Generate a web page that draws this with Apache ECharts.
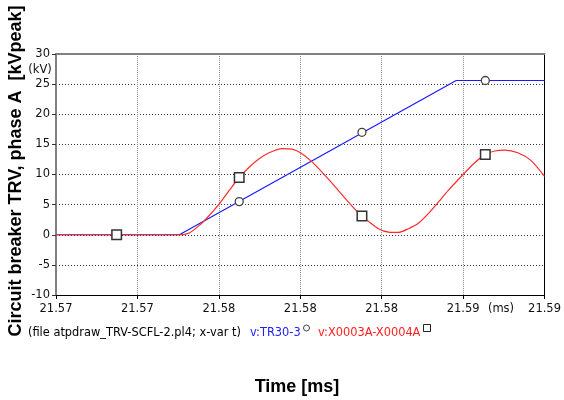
<!DOCTYPE html>
<html>
<head>
<meta charset="utf-8">
<script src="https://cdn.jsdelivr.net/npm/echarts@6/dist/echarts.min.js"></script>
<style>html,body{margin:0;padding:0;background:#fff;}#c{width:564px;height:400px;}</style>
</head>
<body>
<div id="c"></div>
<script>
// ---- data (time in ms, voltage in kV) ----
const xTickLabels = ['21.57', '21.57', '21.58', '21.58', '21.58', '21.59', '21.59'];
const xMinMs = 21.568, xMaxMs = 21.592, xStepMs = 0.004;

const blueT = [21.568, 21.57406, 21.58766, 21.592];
const blueV = [0, 0, 25.6, 25.6];

const redT = [21.568, 21.57406, 21.57455, 21.57504, 21.57553, 21.57599, 21.57651, 21.57700, 21.57749,
  21.57798, 21.57847, 21.57910, 21.57959, 21.58001, 21.58058, 21.58115, 21.58173, 21.58229, 21.58287,
  21.58340, 21.58384, 21.58433, 21.58482, 21.58531, 21.58580, 21.58629, 21.58678, 21.58727,
  21.58800, 21.58849, 21.58906, 21.58955, 21.59004, 21.59069, 21.59134, 21.59200];
const redV = [0, 0, 0.3, 1.55, 3.2, 5.0, 7.35, 9.5, 11.2,
  12.6, 13.6, 14.3, 14.2, 13.6, 12.1, 10.1, 7.9, 5.7, 3.6,
  2.1, 1.0, 0.43, 0.38, 1.0, 1.9, 3.5, 5.4, 7.36,
  10.0, 11.7, 13.3, 13.9, 14.05, 13.6, 12.3, 9.7];

const markerT = [21.57098, 21.57700, 21.58303, 21.58909];
const blueMarkV = [0, 5.5, 17.0, 25.6];
const redMarkV = [0, 9.5, 3.1, 13.3];

const yMin = -10, yMax = 30, yStep = 5;

// ---- build ----
const us = t => Math.round(t * 100000) / 100; // ms -> microseconds
const pairs = (ts, vs) => ts.map((t, i) => [us(t), vs[i]]);
const F = '"DejaVu Sans", Verdana, sans-serif';
const xMin = us(xMinMs), xMax = us(xMaxMs), xStep = us(xStepMs);

const chart = echarts.init(document.getElementById('c'), null, {renderer: 'canvas'});
chart.setOption({
  animation: false,
  backgroundColor: '#fff',
  grid: {left: 56, right: 16, top: 54, bottom: 105},
  xAxis: [{
    type: 'value', min: xMin, max: xMax, interval: xStep, position: 'bottom',
    axisLine: {show: true, onZero: false, lineStyle: {color: '#000', width: 1}},
    axisTick: {show: true, length: 4, lineStyle: {color: '#000'}},
    axisLabel: {margin: 8, color: '#111', fontFamily: F, fontSize: 11.5,
      formatter: v => xTickLabels[Math.round((v - xMin) / xStep)] || ''},
    splitLine: {show: true, lineStyle: {color: '#8a8a8a', type: [1, 1], width: 1}}
  }, {
    type: 'value', min: xMin, max: xMax, position: 'top',
    axisLine: {show: true, onZero: false, lineStyle: {color: '#808080', width: 2}},
    axisTick: {show: false}, axisLabel: {show: false}, splitLine: {show: false}
  }],
  yAxis: [{
    type: 'value', min: yMin, max: yMax, interval: yStep, position: 'left',
    axisLine: {show: true, onZero: false, lineStyle: {color: '#808080', width: 2}},
    axisTick: {show: true, length: 4, lineStyle: {color: '#333'}},
    axisLabel: {margin: 6, color: '#111', fontFamily: F, fontSize: 11.5},
    splitLine: {show: true, lineStyle: {color: '#333', type: [1, 2], width: 1}}
  }, {
    type: 'value', min: yMin, max: yMax, position: 'right',
    axisLine: {show: true, onZero: false, lineStyle: {color: '#000', width: 1}},
    axisTick: {show: false}, axisLabel: {show: false}, splitLine: {show: false}
  }],
  series: [{
    name: 'v:TR30-3', type: 'line', data: pairs(blueT, blueV),
    showSymbol: false, symbol: 'none', lineStyle: {color: '#1a1aff', width: 1.2}, z: 2
  }, {
    name: 'v:X0003A-X0004A', type: 'line', data: pairs(redT, redV), smooth: 0.25,
    showSymbol: false, symbol: 'none', lineStyle: {color: '#ff2a2a', width: 1.2}, z: 3
  }, {
    type: 'scatter', data: pairs(markerT, blueMarkV), symbol: 'circle', symbolSize: 8,
    itemStyle: {color: '#fff', borderColor: '#444', borderWidth: 1.3, opacity: 1}, z: 4
  }, {
    type: 'scatter', data: pairs(markerT, redMarkV), symbol: 'rect', symbolSize: 9.5,
    itemStyle: {color: '#fff', borderColor: '#333', borderWidth: 1.5, opacity: 1}, z: 5
  }],
  graphic: [
    {type: 'text', x: 16, y: 171, rotation: Math.PI / 2,
      style: {text: 'Circuit breaker TRV, phase A  [kVpeak]', font: 'bold 18px "Liberation Sans", Arial, sans-serif',
        fill: '#000', align: 'center', verticalAlign: 'middle'}},
    {type: 'text', x: 297, y: 387,
      style: {text: 'Time [ms]', font: 'bold 18px "Liberation Sans", Arial, sans-serif',
        fill: '#000', align: 'center', verticalAlign: 'middle'}},
    {type: 'text', x: 40, y: 70,
      style: {text: '(kV)', font: '11.5px ' + F, fill: '#111', align: 'center', verticalAlign: 'middle'}},
    {type: 'text', x: 501, y: 309.5,
      style: {text: '(ms)', font: '11.5px ' + F, fill: '#111', align: 'center', verticalAlign: 'middle'}},
    {type: 'text', x: 28, y: 333,
      style: {text: '(file atpdraw_TRV-SCFL-2.pl4; x-var t)', font: '11.4px ' + F, fill: '#000', align: 'left', verticalAlign: 'middle'}},
    {type: 'text', x: 250, y: 333,
      style: {text: 'v:TR30-3', font: '11.4px ' + F, fill: '#2020ff', align: 'left', verticalAlign: 'middle'}},
    {type: 'circle', shape: {cx: 306.5, cy: 328, r: 3}, style: {fill: '#fff', stroke: '#444', lineWidth: 1}},
    {type: 'text', x: 318, y: 333,
      style: {text: 'v:X0003A-X0004A', font: '11.4px ' + F, fill: '#ff2020', align: 'left', verticalAlign: 'middle'}},
    {type: 'rect', shape: {x: 423.5, y: 324.5, width: 7, height: 7}, style: {fill: '#fff', stroke: '#222', lineWidth: 1}}
  ]
});
</script>
</body>
</html>
